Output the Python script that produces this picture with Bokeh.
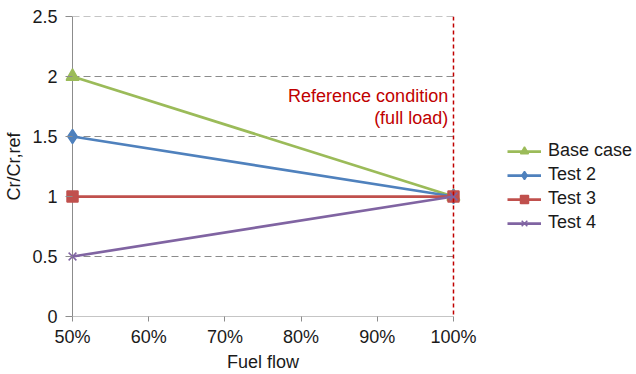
from bokeh.plotting import figure
from bokeh.layouts import row
from bokeh.models import Span, Legend, LegendItem, NumeralTickFormatter, FixedTicker, Range1d, ColumnDataSource, Label
from bokeh.embed import file_html
from bokeh.resources import INLINE

fuel_flow = [0.5, 1.0]
base_case = [2.0, 1.0]
test2 = [1.5, 1.0]
test3 = [1.0, 1.0]
test4 = [0.5, 1.0]
y_ticks = [0, 0.5, 1, 1.5, 2, 2.5]
x_ticks = [0.5, 0.6, 0.7, 0.8, 0.9, 1.0]
ref_x = 1.0

FONT = "Liberation Sans"
GREEN, BLUE, RED, PURPLE = "#9BBB59", "#4F81BD", "#C0504D", "#8064A2"
DARKRED = "#C00000"
GRAY = "#8c8c8c"
TXT = "#1a1a1a"

pad = 0.0092
p = figure(width=480, height=374, output_backend="svg", toolbar_location=None,
           x_range=Range1d(x_ticks[0] - pad, x_ticks[-1] + pad), y_range=Range1d(y_ticks[0], y_ticks[-1]),
           min_border_left=65, min_border_right=20, min_border_top=16, min_border_bottom=57)
p.outline_line_color = None
p.xgrid.visible = False
p.ygrid.visible = False

# gridlines as dashed segments spanning 50%..100%
gy = [v for v in y_ticks if v > 0]
p.segment(x0=[x_ticks[0]] * len(gy), x1=[x_ticks[-1]] * len(gy), y0=gy, y1=gy,
          line_color=GRAY, line_dash="7 4", line_width=1)
# axis lines
p.segment(x0=[x_ticks[0]], x1=[x_ticks[-1]], y0=[y_ticks[0]], y1=[y_ticks[0]], line_color=GRAY, line_width=1)
p.segment(x0=[x_ticks[0]], x1=[x_ticks[0]], y0=[y_ticks[0]], y1=[y_ticks[-1]], line_color=GRAY, line_width=1)

ref = Span(location=ref_x, dimension="height", line_color=DARKRED, line_dash="4 3", line_width=1.5)
p.add_layout(ref)

series = [("Base case", base_case, GREEN, "triangle", 13),
          ("Test 2", test2, BLUE, "diamond", 14),
          ("Test 3", test3, RED, "square", 11),
          ("Test 4", test4, PURPLE, "x", 11)]

for name, ys, c, m, s in series:
    src = ColumnDataSource(dict(x=fuel_flow, y=ys))
    p.line("x", "y", source=src, line_color=c, line_width=2.75)
    p.scatter("x", "y", source=src, marker=m, size=s, fill_color=c, line_color=c, line_width=1.5)

p.add_layout(Label(x=0.993, y=1.835, text="Reference condition", text_align="right", text_baseline="middle",
                   text_font=FONT, text_font_size="18px", text_color=DARKRED))
p.add_layout(Label(x=0.993, y=1.653, text="(full load)", text_align="right", text_baseline="middle",
                   text_font=FONT, text_font_size="18px", text_color=DARKRED))

for ax in (p.xaxis[0], p.yaxis[0]):
    ax.major_label_text_font = FONT
    ax.major_label_text_font_size = "18px"
    ax.major_label_text_color = TXT
    ax.axis_label_text_font = FONT
    ax.axis_label_text_font_size = "18px"
    ax.axis_label_text_font_style = "normal"
    ax.axis_label_text_color = TXT
    ax.minor_tick_line_color = None
    ax.major_tick_line_color = GRAY
    ax.axis_line_color = None

p.xaxis.ticker = FixedTicker(ticks=x_ticks)
p.xaxis.formatter = NumeralTickFormatter(format="0%")
p.xaxis.axis_label = "Fuel flow"
p.xaxis.major_tick_in = 0
p.xaxis.major_tick_out = 5
p.xaxis.major_label_standoff = 5
p.xaxis.axis_label_standoff = 2

p.yaxis.ticker = FixedTicker(ticks=y_ticks)
p.yaxis.formatter = NumeralTickFormatter(format="0.[0]")
p.yaxis.axis_label = "Cr/Cr,ref"
p.yaxis.major_tick_in = 7
p.yaxis.major_tick_out = 0
p.yaxis.major_label_standoff = 8
p.yaxis.axis_label_standoff = 5

# legend panel (same series, drawn off-range so only the legend shows)
p2 = figure(width=156, height=374, output_backend="svg", toolbar_location=None,
            x_axis_type=None, y_axis_type=None, x_range=Range1d(10, 11), y_range=Range1d(10, 11),
            min_border=0)
p2.outline_line_color = None
p2.xgrid.visible = False
p2.ygrid.visible = False
items = []
for name, ys, c, m, s in series:
    src = ColumnDataSource(dict(x=fuel_flow, y=ys))
    l = p2.line("x", "y", source=src, line_color=c, line_width=2.75)
    mk = p2.scatter("x", "y", source=src, marker=m, size=s - 1, fill_color=c, line_color=c, line_width=1.5)
    items.append(LegendItem(label=name, renderers=[l, mk]))

leg = Legend(items=items, location=(27, 83), orientation="vertical",
             glyph_width=34, glyph_height=20, spacing=3, label_standoff=7,
             padding=0, margin=0, border_line_color=None, background_fill_alpha=0,
             label_text_font=FONT, label_text_font_size="18px", label_text_color=TXT)
p2.add_layout(leg)

layout = row(p, p2, spacing=0)
open("out.html", "w").write(file_html(layout, INLINE))
